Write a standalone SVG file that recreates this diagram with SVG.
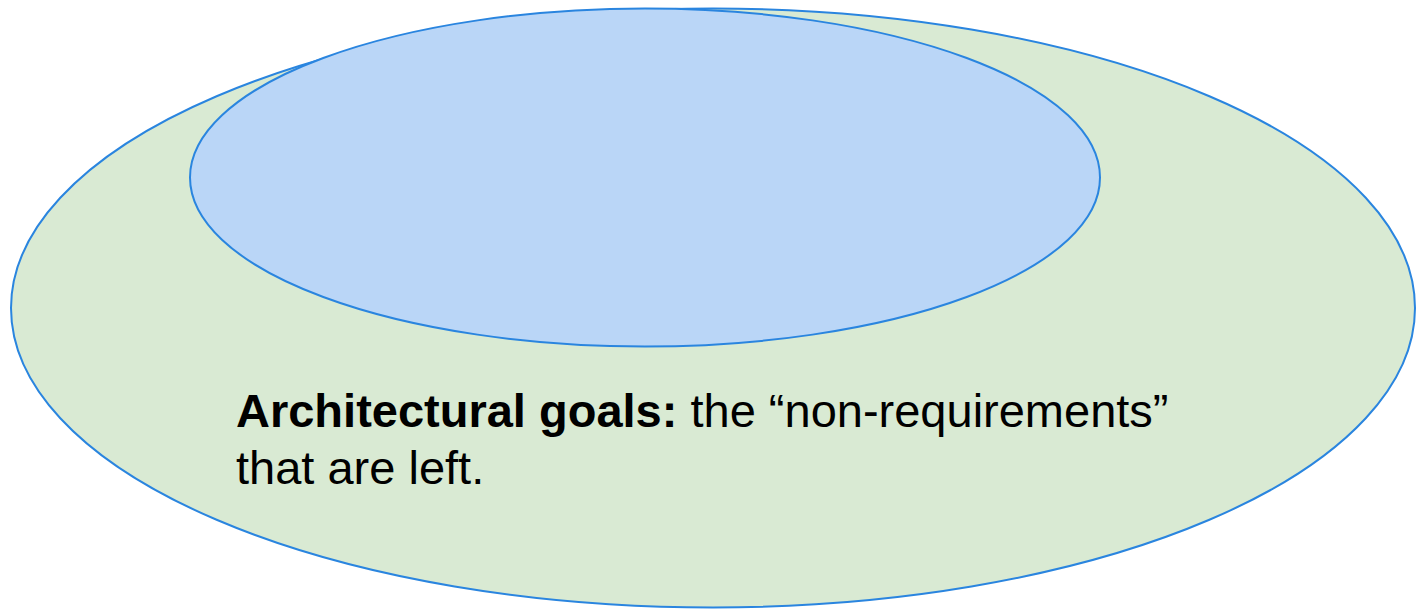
<svg xmlns="http://www.w3.org/2000/svg" width="1416" height="609" viewBox="0 0 1416 609">
<style>
.e{stroke:#2a85df;stroke-width:2}
.t{font-family:"Liberation Sans",Arial,sans-serif;font-size:47px;fill:#000}
.b{font-weight:bold}
</style>
<rect width="1416" height="609" fill="#fff"/>
<g id="outer">
<ellipse class="e" cx="713" cy="308" rx="702" ry="299.5" fill="#d9ead3"/>
</g>
<g id="inner">
<ellipse class="e" cx="645" cy="177.5" rx="455" ry="169" fill="#bad6f7"/>
</g>
<g id="label">
<text class="t" x="236" y="427"><tspan class="b">Architectural goals:</tspan> the “non-requirements”</text>
<text class="t" x="236" y="484">that are left.</text>
</g>
<g id="connectors"/>
</svg>
